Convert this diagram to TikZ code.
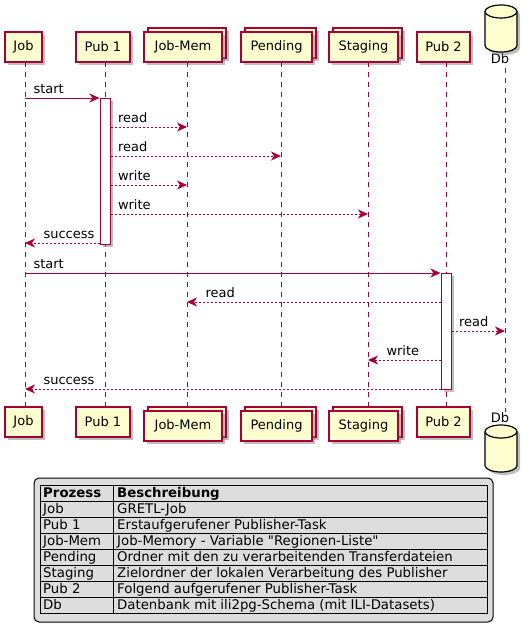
\documentclass[tikz,border=0pt]{standalone}
\usepackage{fontspec}
\setmainfont{DejaVu Sans}[Ligatures=TeXOff]
\usetikzlibrary{arrows.meta,shadows,calc}
\definecolor{umlred}{HTML}{A80036}
\definecolor{umlbox}{HTML}{FEFECE}
\definecolor{legendgray}{HTML}{DDDDDD}

\begin{document}
\begin{tikzpicture}[x=1pt,y=-1pt,
  every node/.style={font=\fontsize{13}{15}\selectfont},
  part/.style={draw=umlred, fill=umlbox, line width=1.2pt, minimum height=30pt, inner sep=0pt,
    drop shadow={shadow xshift=3pt, shadow yshift=-3pt, fill=gray, opacity=0.5}},
  act/.style={draw=umlred, fill=white, line width=1pt, minimum width=10pt, inner sep=0pt,
    drop shadow={shadow xshift=3pt, shadow yshift=-3pt, fill=gray, opacity=0.5}},
  life/.style={umlred, line width=0.9pt, dash pattern=on 5pt off 5pt},
  call/.style={umlred, line width=1pt, -{Stealth[length=10pt, width=9pt, inset=3pt]}},
  reply/.style={call, dash pattern=on 2pt off 2pt},
  lbl/.style={text=black, inner sep=0pt, anchor=base west, yshift=5pt},
  legtxt/.style={inner sep=0pt, anchor=base west, font=\fontsize{13.3}{15}\selectfont},
  dbcyl/.style={draw=black, fill=umlbox, line width=1.2pt}]
\useasboundingbox (0,0) rectangle (528,637);

% Lifeline positions
\coordinate (lJob) at (25,62);
\coordinate (lPub1) at (105,62);
\coordinate (lMem) at (187,62);
\coordinate (lPend) at (281,62);
\coordinate (lStag) at (368,62);
\coordinate (lPub2) at (446,62);
\coordinate (lDb) at (505,68);

% Participants, top
\node[part, minimum width=37pt] (jobT) at (23.5,47) {Job};
\node[part, minimum width=54pt] (pub1T) at (103,47) {Pub 1};
\node[part, minimum width=78pt] (memTb) at (187,43) {};
\node[part, minimum width=78pt] (memT) at (183,47) {Job-Mem};
\node[part, minimum width=71pt] (pendTb) at (280.5,43) {};
\node[part, minimum width=71pt] (pendT) at (276.5,47) {Pending};
\node[part, minimum width=69pt] (stagTb) at (367.5,43) {};
\node[part, minimum width=69pt] (stagT) at (363.5,47) {Staging};
\node[part, minimum width=53pt] (pub2T) at (443.5,47) {Pub 2};
\node[inner sep=0pt, anchor=base] (dbT) at (500,63) {Db};

% Participants, bottom
\node[part, minimum width=37pt] (jobB) at (23.5,422) {Job};
\node[part, minimum width=54pt] (pub1B) at (103,422) {Pub 1};
\node[part, minimum width=78pt] (memBb) at (187,422) {};
\node[part, minimum width=78pt] (memB) at (183,426) {Job-Mem};
\node[part, minimum width=71pt] (pendBb) at (280.5,422) {};
\node[part, minimum width=71pt] (pendB) at (276.5,426) {Pending};
\node[part, minimum width=69pt] (stagBb) at (367.5,422) {};
\node[part, minimum width=69pt] (stagB) at (363.5,426) {Staging};
\node[part, minimum width=53pt] (pub2B) at (443.5,422) {Pub 2};
\node[inner sep=0pt, anchor=base] (dbB) at (500,422) {Db};

% Db cylinders
\foreach \cy in {5,425} {
  \fill[gray, opacity=0.5] (488,\cy+9.5) -- (488,\cy+43.5) arc[start angle=180, end angle=0, x radius=16, y radius=6.5]
    -- (520,\cy+9.5) arc[start angle=0, end angle=-180, x radius=16, y radius=6.5] -- cycle;
  \draw[dbcyl] (485,\cy+6.5) -- (485,\cy+40.5) arc[start angle=180, end angle=0, x radius=16, y radius=6.5]
    -- (517,\cy+6.5) arc[start angle=0, end angle=-180, x radius=16, y radius=6.5] -- cycle;
  \draw[dbcyl] (485,\cy+6.5) arc[start angle=180, end angle=0, x radius=16, y radius=6.5];
}

% Lifelines
\draw[life] (lJob) -- (lJob |- jobB.north);
\draw[life] (lPub1) -- (lPub1 |- pub1B.north);
\draw[life] (lMem) -- (lMem |- memBb.north);
\draw[life] (lPend) -- (lPend |- pendBb.north);
\draw[life] (lStag) -- (lStag |- stagBb.north);
\draw[life] (lPub2) -- (lPub2 |- pub2B.north);
\draw[life] (lDb) -- (lDb |- dbB.north);

% Activations
\node[act, minimum height=146pt] (act1) at (105,171) {};
\node[act, minimum height=116pt] (act2) at (446,331) {};

% Message rows
\foreach \n/\y in {1/98,2/127,3/156,4/185,5/214,6/243,7/273,8/302,9/331,10/360,11/389}
  \coordinate (m\n) at (0,\y);

% First publisher run
\draw[call] (lJob |- m1) -- (act1.west |- m1) node[lbl, pos=0, xshift=8pt] {start};
\draw[reply] (act1.east |- m2) -- (lMem |- m2) node[lbl, pos=0, xshift=7pt] {read};
\draw[reply] (act1.east |- m3) -- (lPend |- m3) node[lbl, pos=0, xshift=7pt] {read};
\draw[reply] (act1.east |- m4) -- (lMem |- m4) node[lbl, pos=0, xshift=7pt] {write};
\draw[reply] (act1.east |- m5) -- (lStag |- m5) node[lbl, pos=0, xshift=7pt] {write};
\draw[reply] (act1.west |- m6) -- (lJob |- m6) node[lbl, pos=1, xshift=18pt] {success};

% Second publisher run
\draw[call] (lJob |- m7) -- (act2.west |- m7) node[lbl, pos=0, xshift=8pt] {start};
\draw[reply] (act2.west |- m8) -- (lMem |- m8) node[lbl, pos=1, xshift=18pt] {read};
\draw[reply] (act2.east |- m9) -- (lDb |- m9) node[lbl, pos=0, xshift=7pt] {read};
\draw[reply] (act2.west |- m10) -- (lStag |- m10) node[lbl, pos=1, xshift=18pt] {write};
\draw[reply] (act2.west |- m11) -- (lJob |- m11) node[lbl, pos=1, xshift=18pt] {success};

% Legend
\draw[fill=legendgray, line width=1pt, rounded corners=5pt] (34,478) rectangle (493,622);
\draw[line width=1pt] (40,485) rectangle (487,613);
\draw[line width=1pt] (113,485) -- (113,613);
\foreach \i in {1,...,7}
  \draw[line width=1pt] (40,{485+16*\i}) -- (487,{485+16*\i});
\node[legtxt] (legHeadA) at (43,497.5) {\bfseries Prozess};
\node[legtxt] (legHeadB) at (117,497.5) {\bfseries Beschreibung};
\foreach \nm/\desc [count=\i] in {{Job}/{GRETL-Job},
    {Pub 1}/{Erstaufgerufener Publisher-Task},
    {Job-Mem}/{Job-Memory - Variable "Regionen-Liste"},
    {Pending}/{Ordner mit den zu verarbeitenden Transferdateien},
    {Staging}/{Zielordner der lokalen Verarbeitung des Publisher},
    {Pub 2}/{Folgend aufgerufener Publisher-Task},
    {Db}/{Datenbank mit ili2pg-Schema (mit ILI-Datasets)}} {
  \node[legtxt] (legA\i) at (43,{497.5+16*\i}) {\nm};
  \node[legtxt] (legB\i) at (117,{497.5+16*\i}) {\desc};
}
\end{tikzpicture}
\end{document}
